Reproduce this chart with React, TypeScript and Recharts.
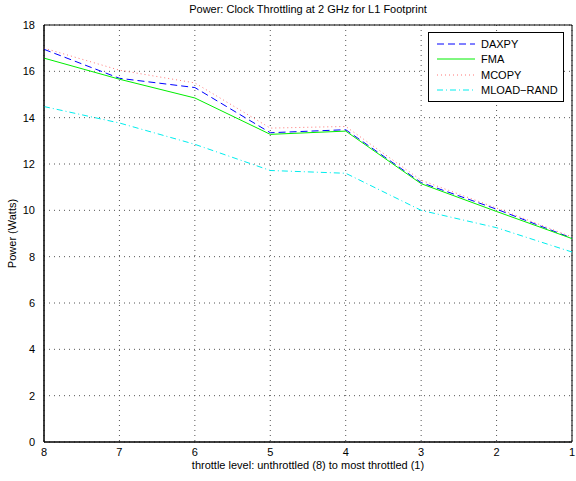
import React from 'react';
import { LineChart, Line, XAxis, YAxis, CartesianGrid, ReferenceArea } from 'recharts';

const levels = [8, 7, 6, 5, 4, 3, 2, 1];
const daxpy = [16.95, 15.7, 15.3, 13.35, 13.48, 11.2, 10.05, 8.8];
const fma = [16.57, 15.66, 14.85, 13.28, 13.42, 11.15, 9.95, 8.78];
const mcopy = [17.0, 16.05, 15.5, 13.55, 13.62, 11.3, 10.1, 8.85];
const mloadRand = [14.48, 13.77, 12.85, 11.72, 11.6, 10.0, 9.25, 8.2];
const yTicks = [0, 2, 4, 6, 8, 10, 12, 14, 16, 18];

const data = levels.map((level, i) => ({
    level,
    daxpy: daxpy[i],
    fma: fma[i],
    mcopy: mcopy[i],
    mload: mloadRand[i],
}));

const series = [
    { key: 'daxpy', name: 'DAXPY', color: '#0000ff', dash: '7 4', width: 1 },
    { key: 'fma', name: 'FMA', color: '#00ee00', dash: undefined, width: 1 },
    { key: 'mcopy', name: 'MCOPY', color: '#ff7777', dash: '1 3', width: 1 },
    { key: 'mload', name: 'MLOAD\u2212RAND', color: '#00eeee', dash: '6 3 1 3', width: 1 },
];

const font = '"Liberation Sans", Arial, Helvetica, sans-serif';

function LegendBox() {
    return (
        <div style={{ position: 'absolute', top: 32, left: 428, border: '1px solid #000', background: '#fff', width: 134, padding: '3px 0', fontSize: 11 }}>
            {series.map((s) => (
                <div key={s.key} style={{ display: 'flex', alignItems: 'center', height: 15.5 }}>
                    <svg width={46} height={10} style={{ marginLeft: 6 }}>
                        <line x1={2} y1={5} x2={40} y2={5} stroke={s.color} strokeWidth={s.width} strokeDasharray={s.dash} />
                    </svg>
                    <span>{s.name}</span>
                </div>
            ))}
        </div>
    );
}

export default function App() {
    return (
        <div style={{ position: 'absolute', left: 0, top: 0, width: 576, height: 481, background: '#fff', fontFamily: font }}>
            <div style={{ position: 'absolute', top: 3, left: 44, width: 528, textAlign: 'center', fontSize: 11 }}>
                Power: Clock Throttling at 2 GHz for L1 Footprint
            </div>
            <LineChart width={576} height={481} data={data} margin={{ top: 25, right: 4, bottom: 0, left: 14 }}>
                <CartesianGrid stroke="#555" strokeDasharray="1 4" />
                <XAxis
                    dataKey="level"
                    type="number"
                    domain={[1, 8]}
                    reversed
                    ticks={levels}
                    height={39}
                    tickLine={false}
                    axisLine={{ stroke: '#000' }}
                    tick={{ fill: '#000', fontSize: 11, fontFamily: font }}
                    tickMargin={0}
                    label={{ value: 'throttle level: unthrottled (8) to most throttled (1)', position: 'insideBottom', offset: 12, fill: '#000', fontSize: 11, fontFamily: font }}
                />
                <YAxis
                    type="number"
                    domain={[0, 18]}
                    ticks={yTicks}
                    width={30}
                    tickLine={false}
                    axisLine={{ stroke: '#000' }}
                    tick={{ fill: '#000', fontSize: 11, fontFamily: font }}
                    tickMargin={3}
                    label={{ value: 'Power (Watts)', angle: -90, position: 'insideLeft', offset: -2, fill: '#000', fontSize: 11, fontFamily: font, style: { textAnchor: 'middle' } }}
                />
                <ReferenceArea x1={8} x2={1} y1={0} y2={18} fill="none" stroke="#000" strokeWidth={1} />
                {series.map((s) => (
                    <Line
                        key={s.key}
                        dataKey={s.key}
                        name={s.name}
                        stroke={s.color}
                        strokeWidth={s.width}
                        strokeDasharray={s.dash}
                        dot={false}
                        activeDot={false}
                        isAnimationActive={false}
                    />
                ))}
            </LineChart>
            <LegendBox />
        </div>
    );
}
